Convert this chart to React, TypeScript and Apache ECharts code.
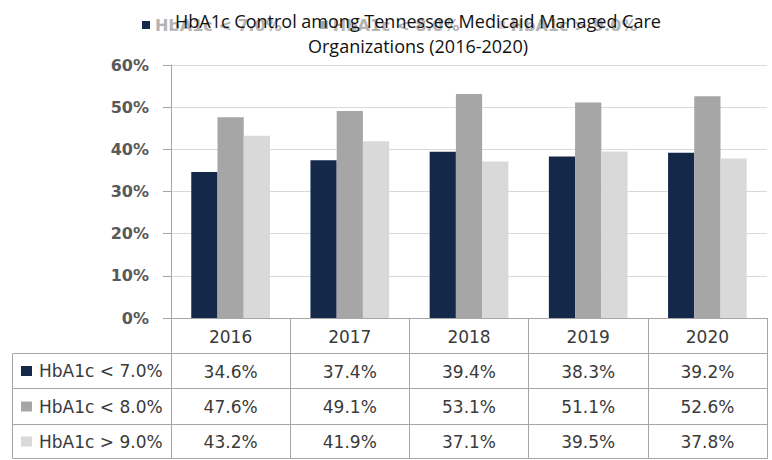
import React, { useEffect, useRef } from "react";
import * as echarts from "echarts";

const years = ["2016", "2017", "2018", "2019", "2020"];
const seriesNames = ["HbA1c < 7.0%", "HbA1c < 8.0%", "HbA1c > 9.0%"];
const below7 = [34.6, 37.4, 39.4, 38.3, 39.2];
const below8 = [47.6, 49.1, 53.1, 51.1, 52.6];
const above9 = [43.2, 41.9, 37.1, 39.5, 37.8];
const seriesValues = [below7, below8, above9];
const seriesColors = ["#14284a", "#a6a6a6", "#d9d9d9"];
const yMin = 0;
const yMax = 60;
const yStep = 10;
const titleText = "HbA1c Control among Tennessee Medicaid Managed Care\nOrganizations (2016-2020)";

const fmt = (v: number) => v.toFixed(1) + "%";

export default function App() {
  const ref = useRef<HTMLDivElement>(null);
  useEffect(() => {
    if (!ref.current) return;
    const chart = echarts.init(ref.current, null, { renderer: "svg" });
    const gridLeft = 171;
    const gridRight = 767;
    const axisY = 318;
    const tableFont = '17px "DejaVu Sans"';
    const lineColor = "#a6a6a6";
    const rowLines = [353.5, 388.5, 424.5, 458.5];
    const rowCenters = [371, 406.5, 441.5];
    const offsets = [35, 70, 105];

    const graphics: any[] = [];
    rowLines.forEach((y) => {
      graphics.push({
        type: "line",
        shape: { x1: 12.5, y1: y, x2: gridRight + 0.5, y2: y },
        style: { stroke: lineColor, lineWidth: 1 },
        silent: true,
      });
    });
    graphics.push({
      type: "line",
      shape: { x1: 12.5, y1: rowLines[0], x2: 12.5, y2: rowLines[3] },
      style: { stroke: lineColor, lineWidth: 1 },
      silent: true,
    });
    seriesNames.forEach((name, i) => {
      graphics.push({
        type: "rect",
        shape: { x: 21, y: rowCenters[i] - 5, width: 11, height: 10 },
        style: { fill: seriesColors[i] },
        silent: true,
      });
      graphics.push({
        type: "text",
        x: 39,
        y: rowCenters[i],
        style: {
          text: name,
          font: tableFont,
          fill: "#3a3a3a",
          textVerticalAlign: "middle",
          textAlign: "left",
        },
        silent: true,
      });
    });

    const tableAxes = seriesValues.map((vals, k) => ({
      type: "category",
      data: years,
      position: "bottom",
      offset: offsets[k],
      axisLine: { show: false },
      axisTick: { show: false },
      splitLine: { show: false },
      axisLabel: {
        interval: 0,
        margin: 10,
        fontFamily: "DejaVu Sans",
        fontSize: 17,
        color: "#3a3a3a",
        formatter: (_v: string, idx: number) => fmt(vals[idx]),
      },
    }));

    chart.setOption({
      animation: false,
      backgroundColor: "#ffffff",
      title: {
        text: titleText,
        left: 418,
        top: 8,
        padding: 0,
        textAlign: "center",
        z: 10,
        textStyle: {
          fontFamily: "Open Sans",
          fontSize: 18,
          fontWeight: "normal",
          color: "#111111",
          lineHeight: 25,
        },
      },
      legend: {
        left: 142,
        top: 17,
        padding: 0,
        itemWidth: 8,
        itemHeight: 8,
        itemGap: 38,
        icon: "rect",
        data: seriesNames,
        z: 1,
        textStyle: {
          fontFamily: "DejaVu Sans",
          fontWeight: "bold",
          fontSize: 16,
          color: "#b4b4b4",
        },
      },
      grid: {
        left: gridLeft,
        right: 772 - gridRight,
        top: 65,
        bottom: 460 - axisY,
        containLabel: false,
      },
      xAxis: [
        {
          type: "category",
          data: years,
          axisLine: { show: true, lineStyle: { color: lineColor } },
          axisTick: {
            show: true,
            inside: false,
            length: 141,
            lineStyle: { color: lineColor },
          },
          axisLabel: {
            interval: 0,
            margin: 10,
            fontFamily: "DejaVu Sans",
            fontSize: 17,
            color: "#3a3a3a",
          },
          splitLine: { show: false },
        },
        ...tableAxes,
      ],
      yAxis: {
        type: "value",
        min: yMin,
        max: yMax,
        interval: yStep,
        axisLine: { show: true, lineStyle: { color: lineColor } },
        axisTick: { show: true, inside: false, length: 8, lineStyle: { color: lineColor } },
        axisLabel: {
          margin: 22,
          formatter: (v: number) => v + "%",
          fontFamily: "DejaVu Sans",
          fontWeight: "bold",
          fontSize: 16,
          color: "#595959",
        },
        splitLine: { show: true, lineStyle: { color: "#d9d9d9" } },
      },
      series: seriesNames.map((name, i) => ({
        name,
        type: "bar",
        xAxisIndex: 0,
        data: seriesValues[i],
        barWidth: "22%",
        barGap: "0%",
        itemStyle: { color: seriesColors[i] },
      })),
      graphic: graphics,
    });
    return () => chart.dispose();
  }, []);
  return (
    <div
      ref={ref}
      style={{ position: "fixed", left: 0, top: 0, width: 772, height: 460, background: "#fff" }}
    />
  );
}
